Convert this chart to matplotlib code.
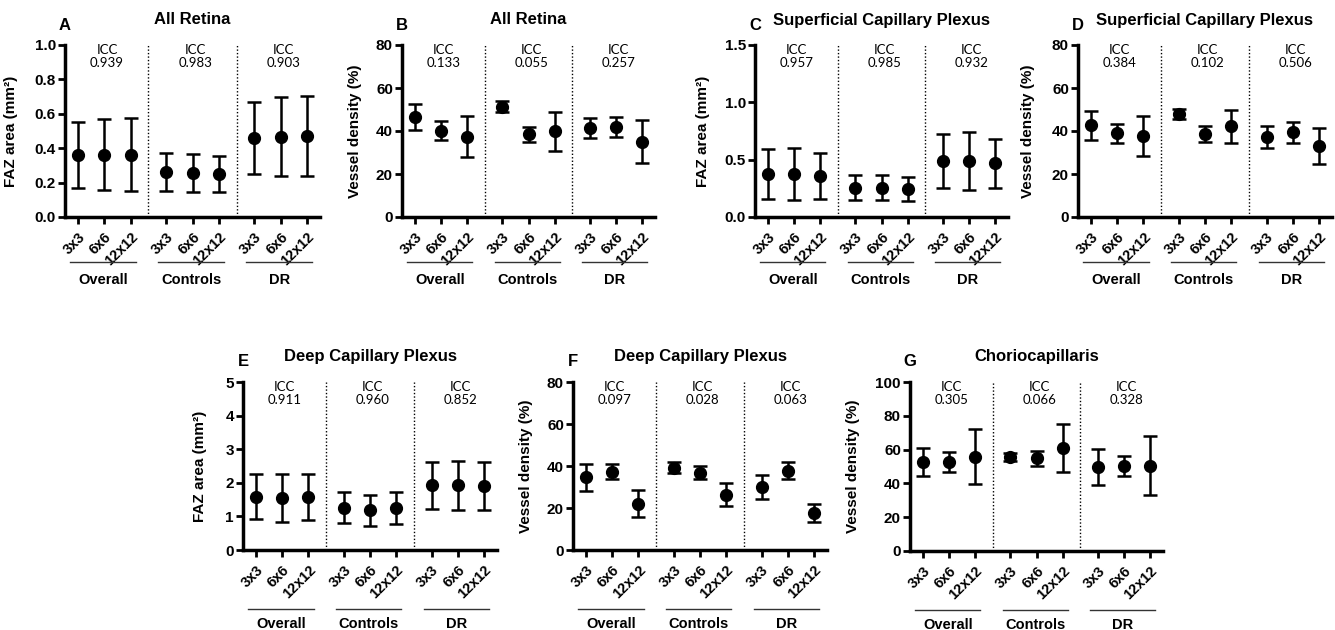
import matplotlib
matplotlib.use("Agg")
import matplotlib.pyplot as plt
import numpy as np

plt.rcParams['font.family'] = ['Liberation Sans', 'DejaVu Sans']

W, H = 1335, 630

sizes = ['3x3', '6x6', '12x12'] * 3
groups = ['Overall', 'Controls', 'DR']
xpos = np.array([0, 1, 2, 3.35, 4.35, 5.35, 6.7, 7.7, 8.7])

# A  All Retina, FAZ area
a_mean = [0.36, 0.362, 0.362, 0.26, 0.257, 0.25, 0.458, 0.466, 0.471]
a_low = [0.167, 0.156, 0.152, 0.152, 0.146, 0.146, 0.248, 0.24, 0.24]
a_high = [0.555, 0.569, 0.573, 0.372, 0.369, 0.356, 0.669, 0.696, 0.704]
a_icc = ['0.939', '0.983', '0.903']

# B  All Retina, vessel density
b_mean = [46.3, 40.1, 37.4, 51.2, 38.5, 39.8, 41.3, 41.7, 35.1]
b_low = [40.3, 35.7, 27.8, 49.0, 35.0, 30.7, 36.8, 37.2, 25.3]
b_high = [52.5, 44.5, 47.0, 53.8, 42.0, 48.8, 45.9, 46.3, 45.0]
b_icc = ['0.133', '0.055', '0.257']

# C  Superficial Capillary Plexus, FAZ area
c_mean = [0.372, 0.372, 0.358, 0.255, 0.255, 0.245, 0.487, 0.487, 0.47]
c_low = [0.155, 0.145, 0.158, 0.145, 0.145, 0.138, 0.252, 0.235, 0.257]
c_high = [0.589, 0.598, 0.558, 0.366, 0.368, 0.352, 0.722, 0.743, 0.683]
c_icc = ['0.957', '0.985', '0.932']

# D  Superficial Capillary Plexus, vessel density
d_mean = [42.6, 38.9, 37.6, 48.0, 38.4, 42.2, 37.2, 39.5, 33.2]
d_low = [35.8, 34.6, 28.4, 45.7, 34.7, 34.3, 32.0, 34.6, 24.7]
d_high = [49.4, 43.2, 46.9, 50.2, 42.1, 50.0, 42.4, 44.4, 41.6]
d_icc = ['0.384', '0.102', '0.506']

# E  Deep Capillary Plexus, FAZ area
e_mean = [1.59, 1.55, 1.58, 1.25, 1.18, 1.26, 1.92, 1.92, 1.91]
e_low = [0.91, 0.84, 0.9, 0.79, 0.72, 0.78, 1.22, 1.18, 1.2]
e_high = [2.27, 2.27, 2.27, 1.72, 1.63, 1.74, 2.62, 2.66, 2.62]
e_icc = ['0.911', '0.960', '0.852']

# F  Deep Capillary Plexus, vessel density
f_mean = [34.6, 37.2, 22.0, 39.1, 36.8, 26.3, 29.9, 37.7, 17.6]
f_low = [28.2, 33.8, 15.6, 36.5, 33.6, 20.8, 24.3, 33.8, 13.4]
f_high = [40.9, 40.8, 28.4, 41.9, 39.9, 31.7, 35.5, 41.7, 21.7]
f_icc = ['0.097', '0.028', '0.063']

# G  Choriocapillaris, vessel density
g_mean = [52.8, 52.5, 55.8, 55.8, 54.8, 61.1, 49.7, 50.1, 50.5]
g_low = [44.5, 46.6, 39.4, 53.4, 50.5, 47.0, 38.8, 44.2, 33.1]
g_high = [61.1, 58.3, 72.4, 58.2, 59.1, 75.4, 60.5, 56.2, 68.0]
g_icc = ['0.305', '0.066', '0.328']

faz_label = 'FAZ area (mm²)'
vd_label = 'Vessel density (%)'

panels = [
    # letter, title, box (px), ylim, yticks, fmt, ylabel, label x, data, row
    ('A', 'All Retina', (65, 45, 320, 217), 1.0, np.arange(0, 1.01, 0.2), '{:.1f}',
     faz_label, -0.184, (a_mean, a_low, a_high, a_icc), 0),
    ('B', 'All Retina', (402, 45, 655, 217), 80, np.arange(0, 81, 20), '{:.0f}',
     vd_label, -0.158, (b_mean, b_low, b_high, b_icc), 0),
    ('C', 'Superficial Capillary Plexus', (755, 45, 1008, 217), 1.5, np.arange(0, 1.51, 0.5), '{:.1f}',
     faz_label, -0.178, (c_mean, c_low, c_high, c_icc), 0),
    ('D', 'Superficial Capillary Plexus', (1078, 45, 1332, 217), 80, np.arange(0, 81, 20), '{:.0f}',
     vd_label, -0.169, (d_mean, d_low, d_high, d_icc), 0),
    ('E', 'Deep Capillary Plexus', (243, 382, 497, 550), 5, np.arange(0, 6, 1), '{:.0f}',
     faz_label, -0.142, (e_mean, e_low, e_high, e_icc), 1),
    ('F', 'Deep Capillary Plexus', (573, 382, 827, 550), 80, np.arange(0, 81, 20), '{:.0f}',
     vd_label, -0.157, (f_mean, f_low, f_high, f_icc), 1),
    ('G', 'Choriocapillaris', (910, 382, 1163, 551), 100, np.arange(0, 101, 20), '{:.0f}',
     vd_label, -0.198, (g_mean, g_low, g_high, g_icc), 1),
]

# group underline / label offsets below the x axis, in px
row_line = {0: 45, 1: 59}
row_glab = {0: 63, 1: 74}

fig = plt.figure(figsize=(W / 100, H / 100), dpi=100)

for letter, title, box, ytop, yticks, fmt, ylabel, labx, data, row in panels:
    x0, y0, x1, y1 = box
    hpx = y1 - y0
    ax = fig.add_axes([x0 / W, 1 - y1 / H, (x1 - x0) / W, hpx / H])
    mean, low, high, icc = [np.array(d) if i < 3 else d for i, d in enumerate(data)]
    yerr = [mean - low, high - mean]
    ax.errorbar(xpos, mean, yerr=yerr, fmt='o', color='black', ms=8.5,
                elinewidth=1.8, capsize=5, capthick=1.8, zorder=3)

    ax.set_xlim(-0.5, 9.2)
    ax.set_ylim(0, ytop)
    ax.set_yticks(yticks)
    ax.set_yticklabels([fmt.format(t) for t in yticks], fontsize=11, fontweight='bold')
    ax.set_xticks(xpos)
    ax.set_xticklabels(sizes, rotation=45, ha='right', rotation_mode='anchor',
                       fontsize=10.5, fontweight='bold')
    ax.tick_params(width=2, length=5, pad=1.5)
    ax.tick_params(axis='x', pad=4)
    for s in ['top', 'right']:
        ax.spines[s].set_visible(False)
    for s in ['left', 'bottom']:
        ax.spines[s].set_linewidth(2.5)

    ax.set_ylabel(ylabel, fontsize=11, fontweight='bold')
    ax.yaxis.set_label_coords(labx, 0.5)

    for xd in [(xpos[2] + xpos[3]) / 2, (xpos[5] + xpos[6]) / 2]:
        ax.axvline(xd, color='black', lw=1, ls=(0, (1, 1.5)))

    trans = ax.get_xaxis_transform()
    for g in range(3):
        xs = xpos[3 * g:3 * g + 3]
        xc = xs[1] + 0.1
        ax.text(xc, 0.972, 'ICC', transform=trans, ha='center', va='center',
                fontsize=9.5, family=['Lato', 'DejaVu Sans'])
        ax.text(xc, 0.893, icc[g], transform=trans, ha='center', va='center',
                fontsize=9.5, family=['Lato', 'DejaVu Sans'])
        yl = -row_line[row] / hpx
        ax.plot([xs[0] - 0.3, xs[2] + 0.2], [yl, yl], transform=trans, color='#333333',
                lw=1, clip_on=False)
        ax.text(xs[1] - 0.05, -row_glab[row] / hpx, groups[g], transform=trans,
                ha='center', va='center', fontsize=10.5, fontweight='bold')

    ax.text(0.5, 1 + 25 / hpx, title, transform=ax.transAxes, ha='center', va='center',
            fontsize=12, fontweight='bold')
    ax.text(0.0, 1 + 20 / hpx, letter, transform=ax.transAxes, ha='center', va='center',
            fontsize=12, fontweight='bold')

fig.savefig('out.png', dpi=100)
